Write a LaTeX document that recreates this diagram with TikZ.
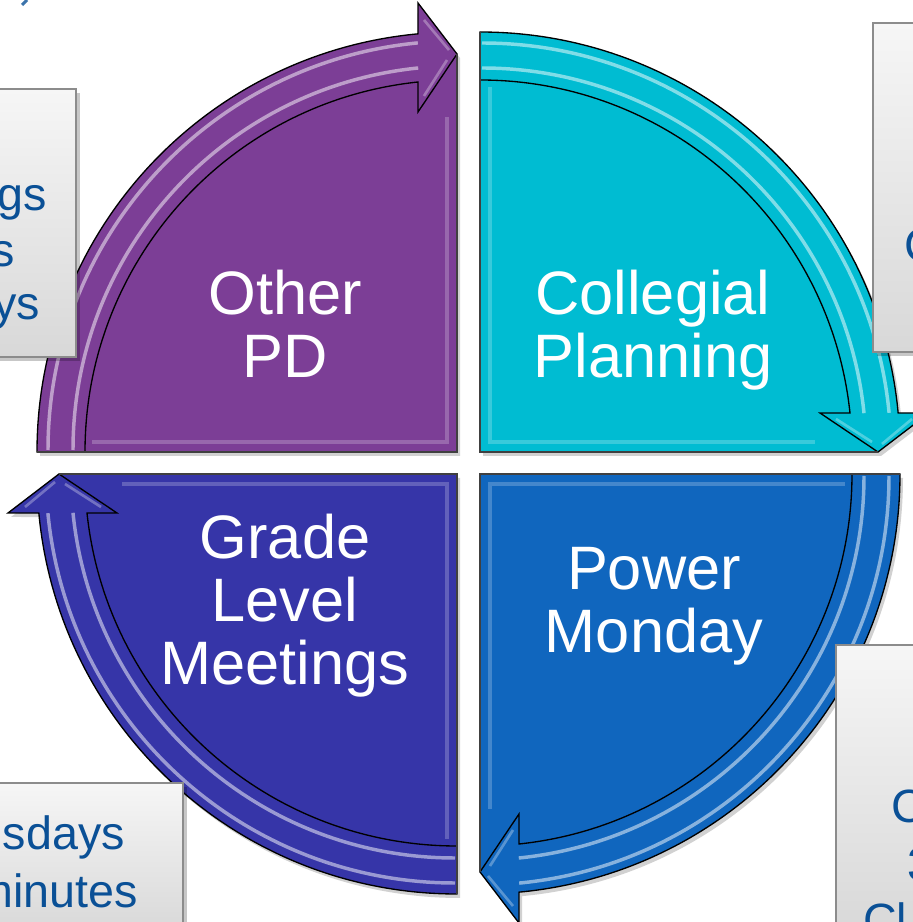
\documentclass[tikz,border=0pt]{standalone}
\usepackage{fontspec}
\setmainfont{Liberation Sans}
\usetikzlibrary{calc}

\definecolor{pdpurple}{HTML}{7C3E96}
\definecolor{collcyan}{HTML}{00BCD2}
\definecolor{powerblue}{HTML}{1066BE}
\definecolor{gradeindigo}{HTML}{3635A8}
\definecolor{notetext}{HTML}{0A5096}
\definecolor{noteedge}{HTML}{8C8C8C}
\definecolor{notetop}{HTML}{F6F6F6}
\definecolor{notebottom}{HTML}{D8D8D8}

\tikzset{
  quadlabel/.style={text=white, font=\fontsize{46}{47.5}\selectfont,
    align=center, anchor=base, inner sep=0pt},
  notebox/.style={draw=noteedge, line width=1.1pt,
    top color=notetop, bottom color=notebottom},
  noteshadow/.style={fill=black, opacity=0.22},
  notetxt/.style={text=notetext, font=\fontsize{35}{43}\selectfont, inner sep=0pt},
  arrowedge/.style={draw=black, line width=1pt, line join=miter},
  gloss/.style={white, opacity=0.5, line width=2.6pt},
  bevel/.style={white, opacity=0.22, line width=2.6pt},
}

% One quarter of the cycle: body plus curved arrow.
% #1,#2 = corner (centre of the arcs), #3 = rotation, #4 = colour
\newcommand{\quadrantpiece}[4]{%
  \begin{scope}[shift={(#1+3,#2-4)}, rotate=#3]
    \fill[black, opacity=0.18] (0,0) -- (-420,0)
      arc[start angle=180, end angle=95.33, radius=420]
      -- (-39,449) -- (0,398) -- cycle;
  \end{scope}
  \begin{scope}[shift={(#1,#2)}, rotate=#3]
    % body, filled up to the arrow head
    \fill[#4] (0,0) -- (-372,0)
      arc[start angle=180, end angle=96.02, radius=372]
      -- (-39,340) -- (0,398) -- cycle;
    % bevel light on the straight edges
    \draw[bevel] (-365,10) -- (-10,10) -- (-10,335);
    % curved arrow
    \filldraw[fill=#4, arrowedge] (-420,0)
      arc[start angle=180, end angle=95.33, radius=420]
      -- (-39,449) -- (0,398) -- (-39,340) -- (-39,370)
      arc[start angle=96.02, end angle=180, radius=372] -- cycle;
    % glossy stripes along the arrow
    \draw[gloss] (-409,2) arc[start angle=180, end angle=95.5, radius=409];
    \draw[gloss] (-384,2) arc[start angle=180, end angle=95.8, radius=384];
    \draw[white, opacity=0.3, line width=2pt] (-33,432) -- (-8,402);
    \draw[white, opacity=0.3, line width=2pt] (-33,356) -- (-10,392);
    % outer straight edges
    \draw[black!75, line width=0.8pt] (-420,0) -- (0,0) -- (0,398);
  \end{scope}}

\begin{document}
\begin{tikzpicture}[x=0.75pt, y=0.75pt]
\useasboundingbox (0,0) rectangle (913,922);
\begin{scope}
\clip (0,0) rectangle (913,922);
\fill[white] (0,0) rectangle (913,922);

% fragment of a heading above the picture
\draw[notetext!80, line width=2.2pt] (22,917) -- (27,922);

% the four quarters, clockwise from top left
\quadrantpiece{457}{470}{0}{pdpurple}
\quadrantpiece{480}{470}{-90}{collcyan}
\quadrantpiece{480}{448}{-180}{powerblue}
\quadrantpiece{457}{448}{90}{gradeindigo}

% quarter labels (anchored on the baseline of the last line)
\node[quadlabel] (otherpd)   at (285,544) {Other\\PD};
\node[quadlabel] (collegial) at (653,544) {Collegial\\Planning};
\node[quadlabel] (power)     at (654,269) {Power\\Monday};
\node[quadlabel] (grade)     at (285,237) {Grade\\Level\\Meetings};

% side notes
\fill[noteshadow] (-10,561) rectangle (80,829);
\path[notebox] (-10,565) rectangle (76,833);
\fill[noteshadow] (877,566) rectangle (925,895);
\path[notebox] (873,570) rectangle (925,899);
\fill[noteshadow] (840,-12) rectangle (925,273);
\path[notebox] (836,-12) rectangle (925,277);
\fill[noteshadow] (-10,-12) rectangle (187,135);
\path[notebox] (-10,-12) rectangle (183,139);

\node[notetxt, anchor=base east] (tl1) at (47,711) {gs};
\node[notetxt, anchor=base east] (tl2) at (15,655) {s};
\node[notetxt, anchor=base east] (tl3) at (40,602) {ys};

\node[notetxt, anchor=base west] (tr1) at (904,660) {C};

\node[notetxt, anchor=base west] (br1) at (891,99) {C};
\node[notetxt, anchor=base west] (br2) at (907,41) {3};
\node[notetxt, anchor=base west] (br3) at (863,-15) {Cl};

\node[notetxt, anchor=base east] (bl1) at (125,72) {sdays};
\node[notetxt, anchor=base east] (bl2) at (138,14) {minutes};
\end{scope}
\end{tikzpicture}
\end{document}
